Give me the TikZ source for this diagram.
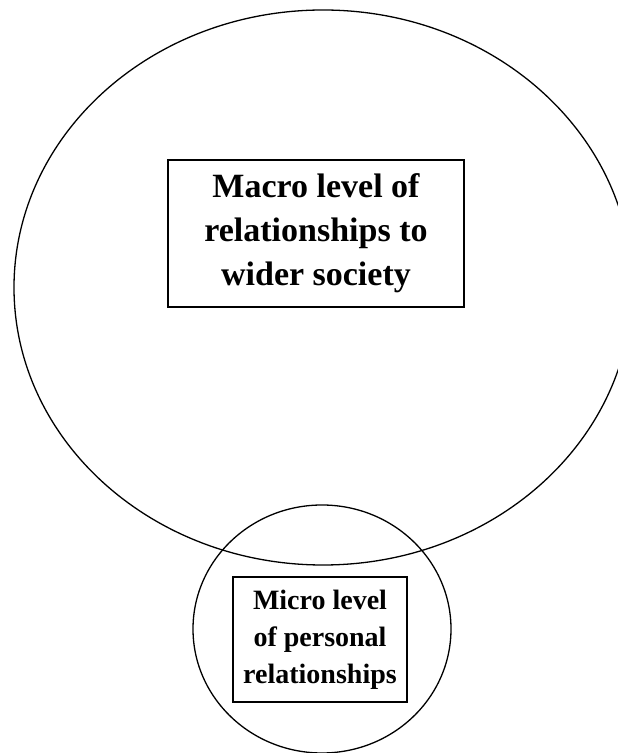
\documentclass[tikz,border=0pt]{standalone}
\usepackage{fontspec}
\setmainfont{Liberation Serif}
\usetikzlibrary{shapes.geometric}
\begin{document}
\begin{tikzpicture}[x=1pt,y=1pt,
  ring/.style={draw, ellipse, line width=1.3pt, inner sep=0pt},
  labelbox/.style={draw, line width=1.8pt, align=center, inner sep=0pt, font=\bfseries}]
\useasboundingbox (0,0) rectangle (618,753);
\clip (0,0) rectangle (618,753);
\node[ring, minimum width=618pt, minimum height=555pt] (macro) at (323,465.5) {};
\node[ring, minimum width=258pt, minimum height=248pt] (micro) at (322,124) {};
\node[labelbox, minimum width=296pt, minimum height=147pt,
  font=\fontsize{34}{44}\selectfont\bfseries] (macrotext) at (316,519.5)
  {Macro level of\\relationships to\\wider society};
\node[labelbox, minimum width=174pt, minimum height=125pt,
  font=\fontsize{28}{37}\selectfont\bfseries] (microtext) at (320,113.5)
  {Micro level\\of personal\\relationships};
\end{tikzpicture}
\end{document}
